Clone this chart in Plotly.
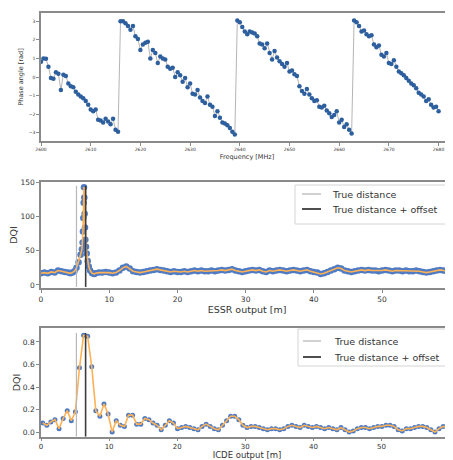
import plotly.graph_objects as go

# ---------------- data ----------------
freq_mhz = [2600 + 0.5 * i for i in range(161)]
phase_seg1 = [0.82, 1.0, 0.98, 0.55, -0.05, -0.1, 0.25, 0.18, -0.7, 0.12,
              0.05, -0.35, -0.5, -0.55, -0.8, -0.95, -1.05, -1.15, -1.3, -1.5,
              -1.75, -1.85, -1.75, -2.3, -2.35, -2.45, -2.25, -2.4, -2.55, -2.25,
              -2.85, -2.95]
phase_seg2 = [3.0, 3.0, 2.9, 2.75, 2.55, 2.75, 2.2, 2.05, 1.45, 1.75,
              1.85, 1.9, 1.0, 1.45, 1.3, 0.75, 1.1, 1.0, 0.95, 0.55,
              0.45, 0.5, 0.0, 0.25, 0.1, -0.25, -0.05, -0.55, -0.35, -0.9,
              -0.95, -0.7, -1.1, -1.3, -1.4, -1.05, -1.5, -1.6, -2.1, -1.85,
              -2.2, -2.45, -2.5, -2.6, -2.75, -2.95, -3.1]
phase_seg3 = [3.05, 2.95, 2.7, 2.45, 2.3, 2.45, 2.4, 2.35, 2.2, 1.8,
              1.75, 1.55, 1.8, 1.3, 0.95, 1.4, 1.05, 0.85, 0.7, 0.55,
              0.75, 0.3, 0.35, 0.15, 0.05, -0.5, -0.75, -0.9, -0.65, -0.95,
              -1.15, -1.3, -1.25, -1.6, -1.65, -1.55, -1.8, -1.95, -2.15, -2.05,
              -1.85, -2.45, -2.3, -2.7, -2.55, -2.85, -3.05]
phase_seg4 = [3.05, 2.95, 2.75, 2.45, 2.5, 2.3, 2.2, 2.25, 1.75, 1.6,
              1.7, 1.2, 1.1, 1.3, 0.75, 0.7, 0.9, 0.55, 0.3, 0.2,
              0.1, -0.05, -0.2, -0.35, -0.45, -0.6, -0.85, -0.95, -1.05, -1.3,
              -1.2, -1.5, -1.65, -1.6, -1.85]
phase_rad = phase_seg1 + phase_seg2 + phase_seg3 + phase_seg4

essr_x_start = [0.0, 0.5, 1.0, 1.5, 2.0, 2.5, 3.0, 3.5, 4.0]
essr_y_start = [17, 18, 17, 19, 18, 21, 20, 19, 18]
essr_x_peak = [4.3, 4.6, 4.9, 5.2, 5.5, 5.8, 6.0, 6.1, 6.15, 6.2, 6.25, 6.3,
               6.35, 6.4, 6.45, 6.5, 6.6, 6.7, 6.85, 7.0, 7.2, 7.5, 7.8]
essr_y_peak = [17, 18, 20, 25, 33, 44, 52, 62, 78, 98, 120, 143,
               128, 104, 84, 66, 56, 46, 35, 27, 21, 17, 16]
essr_x_tail = [8.0 + 0.5 * i for i in range(105)]
essr_y_tail = [17, 18, 18, 19, 18, 17, 18, 21, 25, 27,
               24, 20, 19, 18, 19, 20, 21, 22, 23, 22,
               21, 20, 19, 20, 19, 19, 20, 19, 20, 21,
               20, 21, 20, 20, 21, 20, 21, 22, 21, 22,
               23, 21, 20, 19, 20, 21, 22, 21, 22, 20,
               19, 21, 20, 21, 22, 21, 20, 21, 22, 21,
               20, 21, 22, 20, 19, 18, 16, 17, 19, 21,
               23, 25, 24, 21, 20, 19, 20, 21, 22, 21,
               22, 21, 21, 20, 21, 22, 21, 20, 21, 21,
               20, 21, 20, 20, 21, 20, 19, 18, 19, 20,
               21, 22, 21, 20, 20]
essr_x = essr_x_start + essr_x_peak + essr_x_tail
essr_y = essr_y_start + essr_y_peak + essr_y_tail

icde_x = [0.25 + 0.6 * k for k in range(100)]
icde_y = [0.08, 0.06, 0.09, 0.11, 0.03, 0.12, 0.19, 0.10, 0.18, 0.57,
          0.86, 0.85, 0.58, 0.19, 0.14, 0.25, 0.16, 0.00, 0.10, 0.06,
          0.05, 0.15, 0.15, 0.07, 0.07, 0.12, 0.11, 0.08, 0.06, 0.02,
          0.06, 0.10, 0.08, 0.03, 0.04, 0.05, 0.04, 0.03, 0.02, 0.05,
          0.07, 0.05, 0.03, 0.02, 0.06, 0.10, 0.14, 0.14, 0.11, 0.06,
          0.04, 0.05, 0.05, 0.04, 0.03, 0.02, 0.03, 0.03, 0.02, 0.03,
          0.05, 0.06, 0.05, 0.04, 0.06, 0.05, 0.04, 0.05, 0.04, 0.03,
          0.04, 0.03, 0.02, 0.04, 0.02, 0.00, 0.01, 0.03, 0.04, 0.04,
          0.03, 0.04, 0.05, 0.05, 0.06, 0.06, 0.05, 0.02, 0.01, 0.03,
          0.03, 0.04, 0.05, 0.05, 0.04, 0.02, 0.00, 0.03, 0.05, 0.04]

true_distance = 5.2
true_distance_offset = 6.55
essr_vline_y = [-3, 145]
icde_vline_y = [-0.04, 0.88]
legend_labels = ["True distance", "True distance + offset"]

# ---------------- figure ----------------
OFF = 8                      # page body margin
W, H = 453 - OFF, 460 - OFF  # figure size so that it fits the window
BLUE_DARK = "#2d5f9e"
BLUE = "#4f7bc4"
ORANGE = "#ffb255"
LIGHT = "#b8b8b8"
DARK = "#3c3c3c"
FRAME = "#8a8a8a"
TXT = "#333333"
FONT = "DejaVu Sans"


def px(x):
    return (x - OFF) / W


def py(y):
    return 1 - (y - OFF) / H


def ydom(top, bottom):
    return [py(bottom), py(top)]


fig = go.Figure()

fig.add_trace(go.Scatter(x=freq_mhz, y=phase_rad, mode="lines+markers",
                         line=dict(color="#b5b5b5", width=1),
                         marker=dict(color=BLUE_DARK, size=4.5),
                         xaxis="x", yaxis="y", showlegend=False))

for xa, ya, xs, ys, vy, ms in [("x2", "y2", essr_x, essr_y, essr_vline_y, 6.5),
                               ("x3", "y3", icde_x, icde_y, icde_vline_y, 5)]:
    fig.add_trace(go.Scatter(x=xs, y=ys, mode="markers",
                             marker=dict(color=BLUE, size=ms),
                             xaxis=xa, yaxis=ya, showlegend=False))
    fig.add_trace(go.Scatter(x=xs, y=ys, mode="lines",
                             line=dict(color=ORANGE, width=1.6),
                             xaxis=xa, yaxis=ya, showlegend=False))
    fig.add_trace(go.Scatter(x=[true_distance, true_distance], y=vy, mode="lines",
                             line=dict(color=LIGHT, width=1.2), name=legend_labels[0],
                             xaxis=xa, yaxis=ya, showlegend=False))
    fig.add_trace(go.Scatter(x=[true_distance_offset, true_distance_offset], y=vy,
                             mode="lines", line=dict(color=DARK, width=1.6),
                             name=legend_labels[1], xaxis=xa, yaxis=ya, showlegend=False))

xdom = [px(41), 1]

axis_common = dict(showgrid=False, zeroline=False, showline=True, linecolor=FRAME,
                   linewidth=1.5, ticks="outside", ticklen=3, tickcolor=FRAME,
                   automargin=False)

fig.update_layout(
    width=W, height=H, margin=dict(l=0, r=0, t=0, b=0),
    paper_bgcolor="white", plot_bgcolor="white",
    font=dict(family=FONT, color=TXT),
    showlegend=False,
    xaxis=dict(axis_common, domain=xdom, anchor="y", range=[2600, 2682.9],
               tick0=2600, dtick=10, mirror=True,
               tickfont=dict(size=4.5, family=FONT, color=TXT),
               title=dict(text="Frequency [MHz]", font=dict(size=6.5), standoff=3)),
    yaxis=dict(axis_common, domain=ydom(13, 141), anchor="x", range=[-3.45, 3.45],
               tickvals=[-3, -2, -1, 0, 1, 2, 3],
               tickfont=dict(size=4.5, family=FONT, color=TXT),
               title=dict(text="Phase angle [rad]", font=dict(size=6.5), standoff=4)),
    xaxis2=dict(axis_common, domain=xdom, anchor="y2", range=[0, 60.4],
                dtick=10, mirror=True,
                tickfont=dict(size=7.5, family=FONT, color=TXT),
                title=dict(text="ESSR output [m]", font=dict(size=9.5), standoff=0)),
    yaxis2=dict(axis_common, domain=ydom(182, 288), anchor="x2", range=[-4.5, 150.5],
                tickvals=[0, 50, 100, 150],
                tickfont=dict(size=7.5, family=FONT, color=TXT),
                title=dict(text="DQI", font=dict(size=9.5), standoff=3)),
    xaxis3=dict(axis_common, domain=xdom, anchor="y3", range=[0, 60.5],
                dtick=10, mirror=True, ticklen=2,
                tickfont=dict(size=7, family=FONT, color=TXT),
                title=dict(text="ICDE output [m]", font=dict(size=8.5), standoff=2)),
    yaxis3=dict(axis_common, domain=ydom(328, 437), anchor="x3", range=[-0.044, 0.924],
                tickvals=[0, 0.2, 0.4, 0.6, 0.8], tickformat=".1f",
                tickfont=dict(size=7.5, family=FONT, color=TXT),
                title=dict(text="DQI", font=dict(size=9.5), standoff=0)),
)

# legends (matplotlib-style compact boxes)
shapes = []
annotations = []
for (bx0, by0, bx1, by1, rows, sx0, sx1, tx) in [
        (295, 185, 447, 224, (194, 209), 302, 321, 330),
        (298, 329, 447, 366, (341, 357), 303, 321, 332)]:
    shapes.append(dict(type="rect", xref="paper", yref="paper",
                       x0=px(bx0), x1=px(bx1), y0=py(by1), y1=py(by0),
                       line=dict(color="#d4d4d4", width=1), fillcolor="white",
                       layer="above"))
    for ry, lab, col, lw in zip(rows, legend_labels, [LIGHT, DARK], [1.3, 1.8]):
        shapes.append(dict(type="line", xref="paper", yref="paper",
                           x0=px(sx0), x1=px(sx1), y0=py(ry), y1=py(ry),
                           line=dict(color=col, width=lw), layer="above"))
        annotations.append(dict(text=lab, xref="paper", yref="paper",
                                x=px(tx), y=py(ry), xanchor="left", yanchor="middle",
                                showarrow=False,
                                font=dict(size=9.5, family=FONT, color=TXT)))
fig.update_layout(shapes=shapes, annotations=annotations)

fig.write_html("out.html")
